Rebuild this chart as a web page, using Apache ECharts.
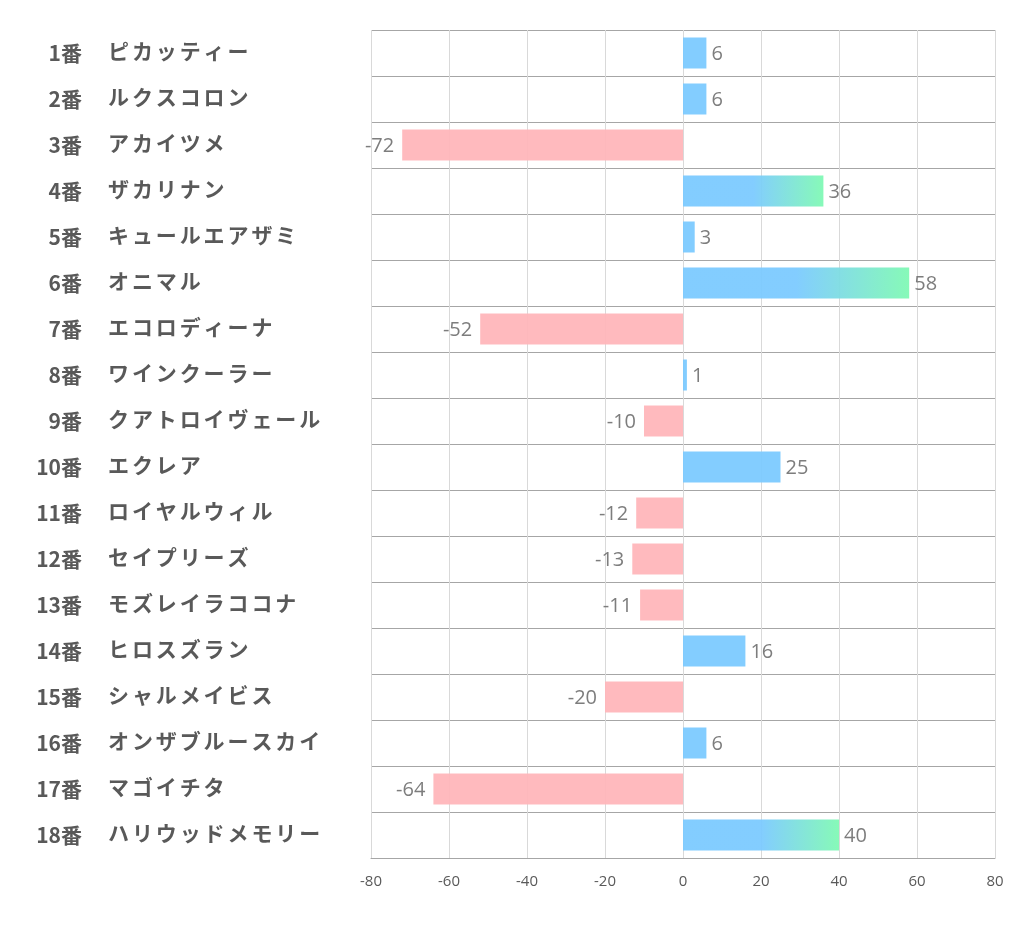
<!DOCTYPE html>
<html><head><meta charset="utf-8">
<script src="https://cdn.jsdelivr.net/npm/echarts@6/dist/echarts.min.js"></script>
<style>html,body{margin:0;padding:0;background:#fff}#c{width:1022px;height:939px}</style>
</head><body><div id="c"></div>
<script>
const numbers = ['1番','2番','3番','4番','5番','6番','7番','8番','9番','10番','11番','12番','13番','14番','15番','16番','17番','18番'];
const names = ['ピカッティー','ルクスコロン','アカイツメ','ザカリナン','キュールエアザミ','オニマル','エコロディーナ','ワインクーラー','クアトロイヴェール','エクレア','ロイヤルウィル','セイプリーズ','モズレイラココナ','ヒロスズラン','シャルメイビス','オンザブルースカイ','マゴイチタ','ハリウッドメモリー'];
const values = [6,6,-72,36,3,58,-52,1,-10,25,-12,-13,-11,16,-20,6,-64,40];
const xTicks = [-80,-60,-40,-20,0,20,40,60,80];

const BLUE = '#7ccaff', GREEN = '#80f9b4', PINK = '#ffb6ba';
const chart = echarts.init(document.getElementById('c'));
const data = values.map(v => {
  let color;
  if (v < 0) color = PINK;
  else if (v >= 30) color = new echarts.graphic.LinearGradient(0,0,1,0,[{offset:0,color:BLUE},{offset:0.5,color:BLUE},{offset:1,color:GREEN}]);
  else color = BLUE;
  return {value: v, itemStyle:{color, opacity:0.95},
    label:{position: v < 0 ? 'left' : 'right', distance: v < 0 ? 8 : 5}};
});
const labelFont = {fontSize:21, fontWeight:'bold', color:'#595959', fontFamily:'Noto Sans CJK JP'};
chart.setOption({
  animation:false,
  grid:{left:371, right:27, top:30, bottom:81},
  xAxis:{type:'value', min:xTicks[0], max:xTicks[xTicks.length-1], interval:20,
    axisLine:{show:true, onZero:false, lineStyle:{color:'#a6a6a6'}}, axisTick:{show:false},
    axisLabel:{color:'#595959', fontSize:15, margin:16, fontFamily:'Open Sans'},
    splitLine:{show:true, lineStyle:{color:'#d9d9d9'}}},
  yAxis:[
    {type:'category', inverse:true, data:numbers,
      axisLine:{show:false}, axisTick:{show:false},
      splitLine:{show:true, lineStyle:{color:'#a6a6a6'}},
      axisLabel:Object.assign({align:'right', margin:289, padding:[0,0,4,0]}, labelFont)},
    {type:'category', inverse:true, data:names, position:'left',
      axisLine:{show:false}, axisTick:{show:false}, splitLine:{show:false},
      axisLabel:{align:'left', margin:263, padding:[0,0,3,0],
        formatter: s => Array.from(s).map(ch => '{c|'+ch+'}').join(''),
        rich:{c:Object.assign({width:23.9}, labelFont)}}}
  ],
  series:[{type:'bar', data, barWidth:31, yAxisIndex:0,
    label:{show:true, color:'#767676', fontSize:20, fontFamily:'Open Sans', offset:[0,1.5]}}]
});
</script></body></html>
